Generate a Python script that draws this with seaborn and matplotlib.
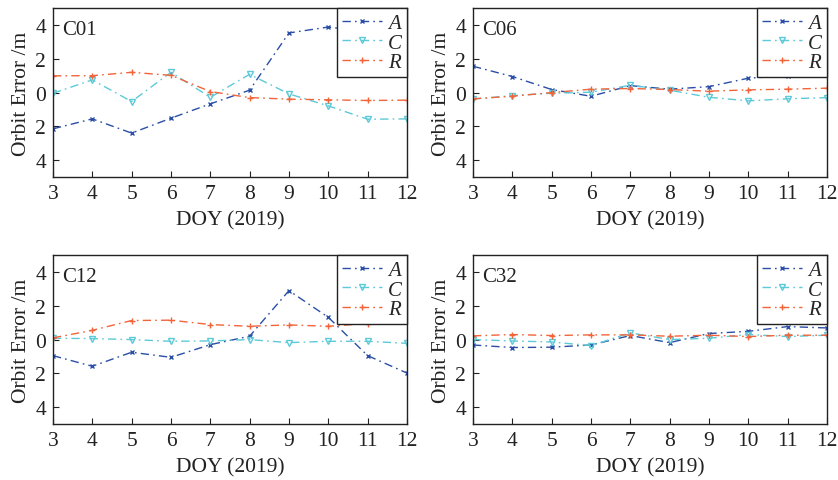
import matplotlib
matplotlib.use("Agg")
import matplotlib.pyplot as plt
import seaborn as sns
import numpy as np

sns.set_theme(style="white")
plt.rcParams['font.family'] = ['Liberation Serif', 'DejaVu Serif']

doy = [3, 4, 5, 6, 7, 8, 9, 10, 11, 12]
sats = ["C01", "C06", "C12", "C32"]

A_C01 = [-2.15, -1.56, -2.4, -1.52, -0.67, 0.14, 3.53, 3.88, 3.6, 3.25]
C_C01 = [-0.04, 0.75, -0.53, 1.2, -0.28, 1.08, -0.08, -0.79, -1.58, -1.56]
R_C01 = [0.99, 1.0, 1.2, 1.02, 0.06, -0.3, -0.39, -0.43, -0.47, -0.45]

A_C06 = [1.56, 0.95, 0.18, -0.22, 0.41, 0.2, 0.35, 0.85, 1.0, 1.08]
C_C06 = [-0.39, -0.18, -0.04, 0.02, 0.43, 0.14, -0.28, -0.49, -0.37, -0.3]
R_C06 = [-0.37, -0.22, 0.0, 0.2, 0.24, 0.18, 0.08, 0.16, 0.2, 0.26]

A_C12 = [-0.95, -1.58, -0.75, -1.05, -0.3, 0.2, 2.9, 1.32, -0.95, -1.98]
C_C12 = [0.08, 0.06, 0.0, -0.1, -0.08, 0.0, -0.18, -0.1, -0.1, -0.22]
R_C12 = [0.1, 0.55, 1.13, 1.15, 0.89, 0.79, 0.87, 0.79, 0.95, 1.38]

A_C32 = [-0.32, -0.47, -0.45, -0.32, 0.24, -0.18, 0.36, 0.49, 0.77, 0.69]
C_C32 = [0.0, -0.08, -0.14, -0.36, 0.4, 0.0, 0.08, 0.3, 0.18, 0.26]
R_C32 = [0.22, 0.3, 0.24, 0.28, 0.28, 0.2, 0.26, 0.18, 0.26, 0.26]

data = {
    "C01": (A_C01, C_C01, R_C01),
    "C06": (A_C06, C_C06, R_C06),
    "C12": (A_C12, C_C12, R_C12),
    "C32": (A_C32, C_C32, R_C32),
}

yticks = [-4, -2, 0, 2, 4]
ytick_labels = ["4", "2", "0", "2", "4"]
xlabel = "DOY (2019)"
ylabel = "Orbit Error /m"

series_names = ["A", "C", "R"]
colors = ["#2a4ea6", "#5ccad8", "#f2643a"]
markers = ["x", "v", "+"]
msizes = [3, 5, 5]

fig = plt.figure(figsize=(8.38, 4.81), dpi=100)
positions = [
    [0.0632, 0.630, 0.4224, 0.351],
    [0.5644, 0.630, 0.4224, 0.351],
    [0.0632, 0.1164, 0.4224, 0.351],
    [0.5644, 0.1164, 0.4224, 0.351],
]

for sat, pos in zip(sats, positions):
    ax = fig.add_axes(pos)
    vals = data[sat]
    for name, v, c, m, ms in zip(series_names, vals, colors, markers, msizes):
        sns.lineplot(x=doy, y=v, ax=ax, color=c, linewidth=1.0,
                     marker=m, markersize=ms, markeredgewidth=1.0,
                     markerfacecolor="none" if m == "v" else c,
                     markeredgecolor=c, label=name)
        ax.lines[-1].set_dashes([6, 3, 1.2, 3])
    ax.set_xlim(3, 12)
    ax.set_ylim(-5, 5)
    ax.set_xticks(doy)
    ax.set_xticklabels([str(d) for d in doy])
    ax.set_yticks(yticks)
    ax.set_yticklabels(ytick_labels)
    ax.tick_params(direction="in", length=4, width=0.8, labelsize=15.5, colors="#222222",
                   bottom=True, left=True, top=False, right=False, pad=5)
    for s in ax.spines.values():
        s.set_color("#222222")
        s.set_linewidth(1.0)
    ax.set_xlabel(xlabel, fontsize=15.5, color="#222222", labelpad=5)
    ax.set_ylabel(ylabel, fontsize=15.5, color="#222222", labelpad=3)
    ax.text(0.025, 0.93, sat, transform=ax.transAxes, fontsize=15, va="top", ha="left",
            color="#222222")
    leg = ax.legend(loc="upper right", borderaxespad=0, frameon=True, fancybox=False,
                    edgecolor="#222222", prop={"style": "italic", "size": 15},
                    handlelength=1.9, handletextpad=0.3, labelspacing=0.0,
                    borderpad=0.25)
    leg.get_frame().set_linewidth(1.0)
    leg.get_frame().set_alpha(1)

fig.savefig("out.png", dpi=100)
